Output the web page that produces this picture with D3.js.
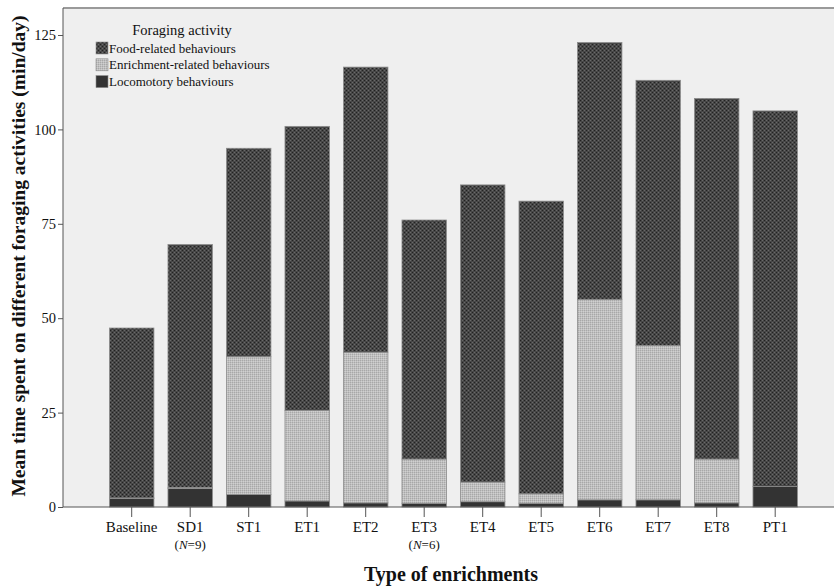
<!DOCTYPE html>
<html>
<head>
<meta charset="utf-8">
<script src="https://cdn.jsdelivr.net/npm/d3@7"></script>
<style>
  html, body { margin: 0; padding: 0; background: #fff; }
  svg { display: block; }
  text { font-family: "Liberation Serif", "Times New Roman", serif; fill: #111; }
</style>
</head>
<body>
<svg id="chart" width="834" height="587"></svg>
<script>
// Enrichment types along the x axis
const categories = ["Baseline", "SD1", "ST1", "ET1", "ET2", "ET3", "ET4", "ET5", "ET6", "ET7", "ET8", "PT1"];
// Sample-size notes shown under some category labels
const notes = ["", "(N=9)", "", "", "", "(N=6)", "", "", "", "", "", ""];
// Mean minutes per day for each foraging activity (stacked bottom to top)
const locomotory = [2.3, 4.9, 3.3, 1.6, 1.1, 1.0, 1.4, 1.0, 1.9, 1.9, 1.1, 5.4];
const enrichment = [0.1, 0.3, 36.5, 24.0, 39.9, 11.7, 5.2, 2.5, 53.1, 40.9, 11.6, 0.0];
const food = [45.0, 64.3, 55.2, 75.2, 75.5, 63.3, 78.7, 77.5, 68.0, 70.2, 95.5, 99.5];
const yTicks = [0, 25, 50, 75, 100, 125];
const seriesKeys = ["loco", "enrich", "food"];
const legendItems = [
  { key: "food", label: "Food-related behaviours" },
  { key: "enrich", label: "Enrichment-related behaviours" },
  { key: "loco", label: "Locomotory behaviours" }
];

const svg = d3.select("#chart");
const plot = { left: 63, top: 8, right: 834, bottom: 507 };

// Fill patterns for the three activities
const defs = svg.append("defs");
const pFood = defs.append("pattern").attr("id", "pat-food")
  .attr("patternUnits", "userSpaceOnUse").attr("width", 4).attr("height", 4);
pFood.append("rect").attr("width", 4).attr("height", 4).attr("fill", "#474747");
pFood.append("rect").attr("x", 0).attr("y", 0).attr("width", 1).attr("height", 1).attr("fill", "#222");
pFood.append("rect").attr("x", 2).attr("y", 2).attr("width", 1).attr("height", 1).attr("fill", "#222");
pFood.append("rect").attr("x", 2).attr("y", 0).attr("width", 1).attr("height", 1).attr("fill", "#6a6a6a");
pFood.append("rect").attr("x", 0).attr("y", 2).attr("width", 1).attr("height", 1).attr("fill", "#6a6a6a");

const pEnr = defs.append("pattern").attr("id", "pat-enrich")
  .attr("patternUnits", "userSpaceOnUse").attr("width", 2).attr("height", 2);
pEnr.append("rect").attr("width", 2).attr("height", 2).attr("fill", "#bfbfbf");
pEnr.append("rect").attr("x", 0).attr("y", 0).attr("width", 1).attr("height", 1).attr("fill", "#a8a8a8");
pEnr.append("rect").attr("x", 1).attr("y", 1).attr("width", 1).attr("height", 1).attr("fill", "#d0d0d0");

const fills = { food: "url(#pat-food)", enrich: "url(#pat-enrich)", loco: "#333333" };

// Plot background and top frame line
svg.append("rect")
  .attr("x", plot.left).attr("y", plot.top)
  .attr("width", plot.right - plot.left).attr("height", plot.bottom - plot.top)
  .attr("fill", "#efefef");
svg.append("line")
  .attr("x1", plot.left).attr("x2", plot.right)
  .attr("y1", plot.top).attr("y2", plot.top)
  .attr("stroke", "#9a9a9a").attr("stroke-width", 2);

// Scales
const x = d3.scaleBand().domain(categories)
  .range([102.45, 804.45]).paddingInner(0.24).paddingOuter(0.12);
const y = d3.scaleLinear().domain([0, 125]).range([507, 35]);

// Stacked data
const rows = categories.map((c, i) => ({ cat: c, loco: locomotory[i], enrich: enrichment[i], food: food[i] }));
const stacked = d3.stack().keys(seriesKeys)(rows);

svg.append("g").selectAll("g")
  .data(stacked).join("g")
  .attr("fill", d => fills[d.key])
  .selectAll("rect")
  .data(d => d).join("rect")
  .attr("x", d => x(d.data.cat))
  .attr("width", x.bandwidth())
  .attr("y", d => y(d[1]))
  .attr("height", d => Math.max(0, y(d[0]) - y(d[1])))
  .attr("stroke", "#8c8c8c")
  .attr("stroke-width", 0.8);

// Y axis
const yAxis = svg.append("g")
  .attr("transform", `translate(${plot.left},0)`)
  .call(d3.axisLeft(y).tickValues(yTicks).tickSize(5).tickPadding(2));
yAxis.select(".domain").attr("stroke", "#555").attr("d", `M0,${plot.top}V${plot.bottom}`);
yAxis.selectAll(".tick line").attr("stroke", "#555");
yAxis.selectAll(".tick text").style("font-family", "Liberation Serif, serif")
  .style("font-size", "14.5px").attr("fill", "#111");

// X axis
const xAxis = svg.append("g")
  .attr("transform", `translate(0,${plot.bottom})`)
  .call(d3.axisBottom(x).tickSize(10).tickPadding(4));
xAxis.select(".domain").attr("stroke", "#555").attr("d", `M${plot.left},0H${plot.right}`);
xAxis.selectAll(".tick line").attr("stroke", "#555");
xAxis.selectAll(".tick text").style("font-family", "Liberation Serif, serif")
  .style("font-size", "15px").attr("fill", "#111");

// Sample-size notes with italic N
const noteG = svg.append("g");
categories.forEach((c, i) => {
  if (!notes[i]) return;
  const t = noteG.append("text")
    .attr("x", x(c) + x.bandwidth() / 2).attr("y", 548.5)
    .attr("text-anchor", "middle").style("font-size", "13px");
  t.append("tspan").text("(");
  t.append("tspan").style("font-style", "italic").text("N");
  t.append("tspan").text(notes[i].slice(2));
});

// Axis titles
svg.append("text")
  .attr("x", 451).attr("y", 581).attr("text-anchor", "middle")
  .style("font-size", "20px").style("font-weight", "bold")
  .text("Type of enrichments");
svg.append("text")
  .attr("transform", "translate(25,256) rotate(-90)")
  .attr("text-anchor", "middle")
  .style("font-size", "19.5px").style("font-weight", "bold")
  .text("Mean time spent on different foraging activities (min/day)");

// Legend
const lg = svg.append("g").attr("transform", "translate(96,0)");
lg.append("text").attr("x", 86).attr("y", 35).attr("text-anchor", "middle")
  .style("font-size", "14.5px").text("Foraging activity");
legendItems.forEach((it, i) => {
  const yy = 42 + i * 16.8;
  lg.append("rect").attr("x", 0).attr("y", yy).attr("width", 12).attr("height", 12)
    .attr("fill", fills[it.key]).attr("stroke", "#8c8c8c").attr("stroke-width", 0.6);
  lg.append("text").attr("x", 13).attr("y", yy + 10.5)
    .style("font-size", "13px").text(it.label);
});
</script>
</body>
</html>
